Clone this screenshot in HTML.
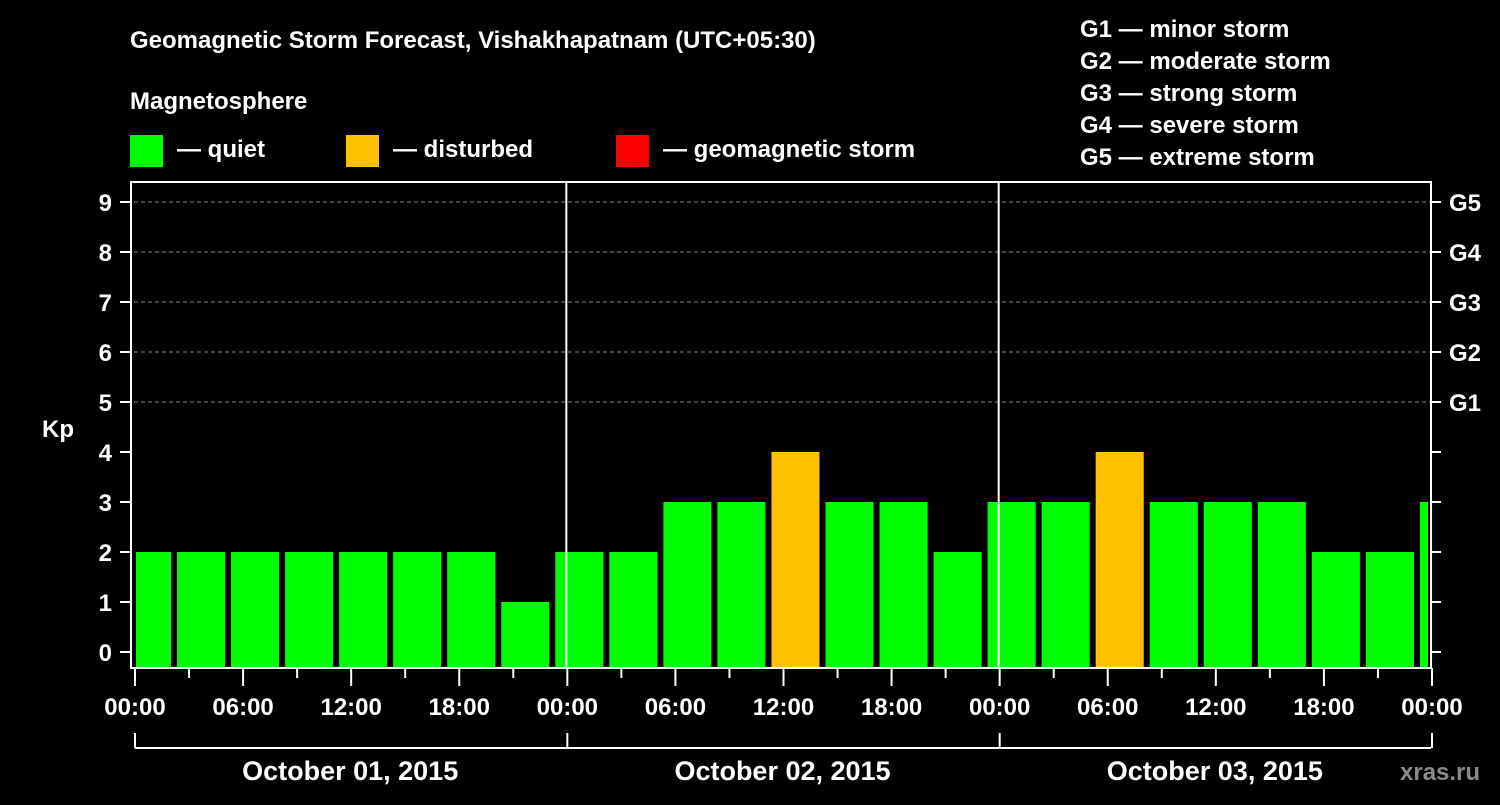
<!DOCTYPE html>
<html><head><meta charset="utf-8"><style>
body{margin:0;background:#000;width:1500px;height:800px;overflow:hidden}
svg text{font-family:"Liberation Sans",Arial,sans-serif;font-weight:bold;fill:#fff}
</style></head><body>
<svg id="c" width="1500" height="800" xmlns="http://www.w3.org/2000/svg">
<rect width="1500" height="800" fill="#000"/>
<text x="130" y="48" font-size="24">Geomagnetic Storm Forecast, Vishakhapatnam (UTC+05:30)</text>
<text x="130" y="109" font-size="24">Magnetosphere</text>
<rect x="130" y="135" width="33" height="32" fill="#00ff00"/>
<text x="177" y="157" font-size="24">— quiet</text>
<rect x="346" y="135" width="33" height="32" fill="#ffc000"/>
<text x="393" y="157" font-size="24">— disturbed</text>
<rect x="616" y="135" width="33" height="32" fill="#ff0000"/>
<text x="663" y="157" font-size="24">— geomagnetic storm</text>
<g font-size="24">
<text x="1080" y="37">G1 — minor storm</text>
<text x="1080" y="69">G2 — moderate storm</text>
<text x="1080" y="101">G3 — strong storm</text>
<text x="1080" y="133">G4 — severe storm</text>
<text x="1080" y="165">G5 — extreme storm</text>
</g>
<text x="42" y="437" font-size="24">Kp</text>
<text x="1400" y="780" font-size="24" fill="#888" style="fill:#8a8a8a">xras.ru</text>
<g id="plot"></g>
</svg>
<script>
const kpValues=[2,2,2,2,2,2,2,1,2,2,3,3,4,3,3,2,3,3,4,3,3,3,2,2,3];
const yTicks=[0,1,2,3,4,5,6,7,8,9];
const gLabels=["G1","G2","G3","G4","G5"];
const gLevels=[5,6,7,8,9];
const xTickLabels=["00:00","06:00","12:00","18:00","00:00","06:00","12:00","18:00","00:00","06:00","12:00","18:00","00:00"];
const dayLabels=["October 01, 2015","October 02, 2015","October 03, 2015"];
const firstBarStartHour=-0.78; // local offset of first 3h interval
const NS="http://www.w3.org/2000/svg";
const L=134,R=1431,T=182,B=668;
const xH=h=>L+(R-L)*h/72;
const yK=k=>652-50*k;
const g=document.getElementById('plot');
function mk(t,a,p){const e=document.createElementNS(NS,t);for(const k in a)e.setAttribute(k,a[k]);(p||g).appendChild(e);return e;}
// grid
gLevels.forEach(k=>{const e=mk('line',{x1:L,x2:R,y1:yK(k),y2:yK(k),stroke:'#888','stroke-dasharray':'4,3','stroke-width':1});

});
// bars
kpValues.forEach((v,i)=>{
 let s=firstBarStartHour+3*i, e=s+3;
 let x1=Math.max(xH(s)+3,L+2), x2=Math.min(xH(e)-3,R-3);
 if(x2<=x1)return;
 const r=mk('rect',{x:x1,y:yK(v),width:x2-x1,height:B-yK(v),fill:v>=5?'#ff0000':(v>=4?'#ffc000':'#00ff00')});
 
 
});
// day dividers
[24,48].forEach(h=>{const e=mk('line',{x1:xH(h),x2:xH(h),y1:T,y2:B,stroke:'#fff','stroke-width':2});

});
// frame
const f=mk('rect',{x:L-3,y:T,width:R-L+3,height:B-T,fill:'none',stroke:'#fff','stroke-width':2});


// y ticks
yTicks.forEach(k=>{
 mk('line',{x1:L-14,x2:L-3,y1:yK(k),y2:yK(k),stroke:'#fff','stroke-width':2});
 mk('line',{x1:R,x2:R+10,y1:yK(k),y2:yK(k),stroke:'#fff','stroke-width':2});
 const t=mk('text',{x:L-22,y:yK(k)+9,'font-size':24,'text-anchor':'end'});t.textContent=k;
 
 
});
gLabels.forEach((s,i)=>{const t=mk('text',{x:R+18,y:yK(gLevels[i])+9,'font-size':24});t.textContent=s;

});
// x ticks
for(let h=0;h<=72;h+=3){const maj=h%6==0;mk('line',{x1:xH(h)+1,x2:xH(h)+1,y1:B,y2:B+(maj?18:10),stroke:'#fff','stroke-width':2});}
xTickLabels.forEach((s,i)=>{const t=mk('text',{x:xH(i*6)+1,y:715,'font-size':24,'text-anchor':'middle'});t.textContent=s;

});
// date bracket
mk('line',{x1:L+1,x2:R,y1:748,y2:748,stroke:'#fff','stroke-width':2});
[0,24,48,72].forEach(h=>mk('line',{x1:xH(h)+1,x2:xH(h)+1,y1:733,y2:748,stroke:'#fff','stroke-width':2}));
dayLabels.forEach((s,i)=>{const t=mk('text',{x:xH(i*24+12),y:780,'font-size':27,'text-anchor':'middle'});t.textContent=s;

});
</script>
</body></html>
